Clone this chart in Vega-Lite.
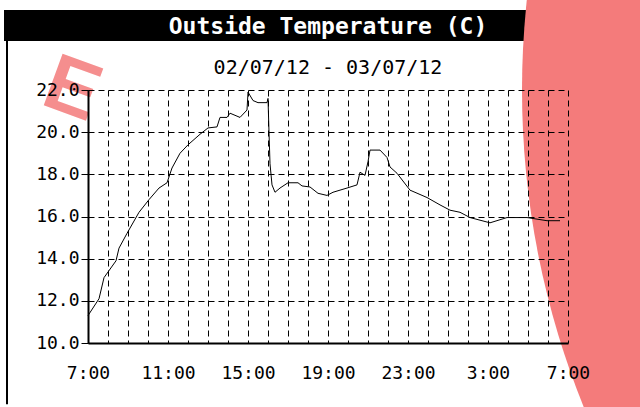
{
  "$schema": "https://vega.github.io/schema/vega-lite/v6.json",
  "width": 480,
  "height": 253,
  "autosize": {"type": "none"},
  "padding": {"left": 88, "top": 90, "right": 72, "bottom": 64},
  "background": "white",
  "data": {
    "values": [
      {"hour": 0, "temp": 11.3},
      {"hour": 0.55, "temp": 12.1},
      {"hour": 0.8, "temp": 13.1},
      {"hour": 1.4, "temp": 13.9},
      {"hour": 1.55, "temp": 14.5},
      {"hour": 1.95, "temp": 15.2},
      {"hour": 2.55, "temp": 16.2},
      {"hour": 3.05, "temp": 16.8},
      {"hour": 3.55, "temp": 17.35},
      {"hour": 3.95, "temp": 17.6},
      {"hour": 4.2, "temp": 18.3},
      {"hour": 4.6, "temp": 19.0},
      {"hour": 5.0, "temp": 19.4},
      {"hour": 5.6, "temp": 19.9},
      {"hour": 6.0, "temp": 20.2},
      {"hour": 6.45, "temp": 20.25},
      {"hour": 6.6, "temp": 20.7},
      {"hour": 6.95, "temp": 20.7},
      {"hour": 7.1, "temp": 20.9},
      {"hour": 7.6, "temp": 20.7},
      {"hour": 7.95, "temp": 21.05},
      {"hour": 8.0, "temp": 21.9},
      {"hour": 8.25, "temp": 21.5},
      {"hour": 8.5, "temp": 21.4},
      {"hour": 8.95, "temp": 21.4},
      {"hour": 9.0, "temp": 21.6},
      {"hour": 9.05, "temp": 20.0},
      {"hour": 9.1, "temp": 18.5},
      {"hour": 9.2, "temp": 17.5},
      {"hour": 9.35, "temp": 17.15},
      {"hour": 9.6, "temp": 17.35},
      {"hour": 10.0, "temp": 17.6},
      {"hour": 10.5, "temp": 17.6},
      {"hour": 10.7, "temp": 17.45},
      {"hour": 11.1, "temp": 17.4},
      {"hour": 11.5, "temp": 17.1},
      {"hour": 11.95, "temp": 17.0},
      {"hour": 12.25, "temp": 17.15},
      {"hour": 12.95, "temp": 17.35},
      {"hour": 13.45, "temp": 17.5},
      {"hour": 13.6, "temp": 18.1},
      {"hour": 13.85, "temp": 17.95},
      {"hour": 14.0, "temp": 18.6},
      {"hour": 14.1, "temp": 19.15},
      {"hour": 14.6, "temp": 19.15},
      {"hour": 14.95, "temp": 18.8},
      {"hour": 15.1, "temp": 18.35},
      {"hour": 15.45, "temp": 18.05},
      {"hour": 16.1, "temp": 17.25},
      {"hour": 16.95, "temp": 16.9},
      {"hour": 17.6, "temp": 16.55},
      {"hour": 18.1, "temp": 16.3},
      {"hour": 18.6, "temp": 16.2},
      {"hour": 19.1, "temp": 15.95},
      {"hour": 20.1, "temp": 15.7},
      {"hour": 20.95, "temp": 15.95},
      {"hour": 21.95, "temp": 15.95},
      {"hour": 22.95, "temp": 15.8},
      {"hour": 23.6, "temp": 15.8}
    ]
  },
  "encoding": {
    "x": {
      "field": "hour",
      "type": "quantitative",
      "title": null,
      "scale": {"domain": [0, 24], "nice": false, "zero": false},
      "axis": {
        "zindex": 1,
        "values": [0, 1, 2, 3, 4, 5, 6, 7, 8, 9, 10, 11, 12, 13, 14, 15, 16, 17, 18, 19, 20, 21, 22, 23, 24],
        "labelExpr": "datum.value % 4 == 0 ? ((datum.value + 7) % 24) + ':00' : ''",
        "ticks": false,
        "labelPadding": 21,
        "labelOverlap": false,
        "labelFlush": false
      }
    },
    "y": {
      "field": "temp",
      "type": "quantitative",
      "title": null,
      "scale": {"domain": [10, 22], "nice": false, "zero": false},
      "axis": {
        "zindex": 1,
        "values": [10, 12, 14, 16, 18, 20, 22],
        "format": ".1f",
        "tickSize": 7,
        "tickWidth": 1,
        "labelPadding": 2
      }
    }
  },
  "layer": [
    {
      "transform": [{"filter": "datum.hour == 0"}],
      "mark": {"type": "rect", "color": "black", "clip": false},
      "encoding": {
        "x": {"datum": -4.2, "type": "quantitative"},
        "x2": {"datum": 28.5},
        "y": {"datum": 25.795, "type": "quantitative"},
        "y2": {"datum": 24.324}
      }
    },
    {
      "transform": [{"filter": "datum.hour == 0"}],
      "mark": {"type": "rule", "color": "black", "strokeWidth": 2, "clip": false},
      "encoding": {
        "x": {"datum": -4.05, "type": "quantitative"},
        "y": {"datum": 25.795, "type": "quantitative"},
        "y2": {"datum": 7.1}
      }
    },
    {
      "transform": [{"filter": "datum.hour == 0"}],
      "mark": {"type": "text", "text": "Outside Temperature (C)", "font": "DejaVu Sans Mono", "fontWeight": "bold", "fontSize": 23, "color": "white", "align": "center", "baseline": "middle", "clip": false},
      "encoding": {
        "x": {"datum": 12, "type": "quantitative"},
        "y": {"datum": 24.99, "type": "quantitative"}
      }
    },
    {
      "transform": [{"filter": "datum.hour == 0"}],
      "mark": {"type": "text", "text": "02/07/12 - 03/07/12", "font": "DejaVu Sans Mono", "fontSize": 20, "color": "black", "align": "center", "baseline": "middle", "clip": false},
      "encoding": {
        "x": {"datum": 12, "type": "quantitative"},
        "y": {"datum": 23.04, "type": "quantitative"}
      }
    },
    {
      "transform": [{"filter": "datum.hour == 0"}],
      "mark": {"type": "text", "text": "E", "font": "Liberation Sans", "fontWeight": "bold", "fontSize": 80, "angle": 20, "color": "#F47B7B", "opacity": 0.85, "align": "center", "baseline": "middle", "clip": false},
      "encoding": {
        "x": {"datum": -0.8, "type": "quantitative"},
        "y": {"datum": 22.0, "type": "quantitative"}
      }
    },
    {
      "transform": [{"filter": "datum.hour == 0"}],
      "mark": {"type": "point", "shape": "circle", "filled": true, "color": "#F47B7B", "opacity": 1, "size": 2856100, "clip": false},
      "encoding": {
        "x": {"datum": 63.95, "type": "quantitative"},
        "y": {"datum": 22, "type": "quantitative"}
      }
    },
    {
      "data": {"values": [{"hour": 0}, {"hour": 4}, {"hour": 8}, {"hour": 12}, {"hour": 16}, {"hour": 20}, {"hour": 24}]},
      "mark": {"type": "rule", "color": "black", "strokeWidth": 2, "clip": false},
      "encoding": {
        "x": {"field": "hour", "type": "quantitative"},
        "y": {"datum": 10, "type": "quantitative"},
        "y2": {"datum": 9.43}
      }
    },
    {
      "mark": {"type": "line", "color": "black", "strokeWidth": 1, "clip": false},
      "encoding": {}
    }
  ],
  "config": {
    "view": {"stroke": null},
    "axis": {
      "zindex": 1,
      "grid": true,
      "gridColor": "black",
      "gridOpacity": 1,
      "gridWidth": 1,
      "gridDash": [6, 4],
      "domainColor": "black",
      "domainWidth": 2,
      "tickColor": "black",
      "labelColor": "black",
      "labelFont": "DejaVu Sans Mono",
      "labelFontSize": 18
    }
  }
}
